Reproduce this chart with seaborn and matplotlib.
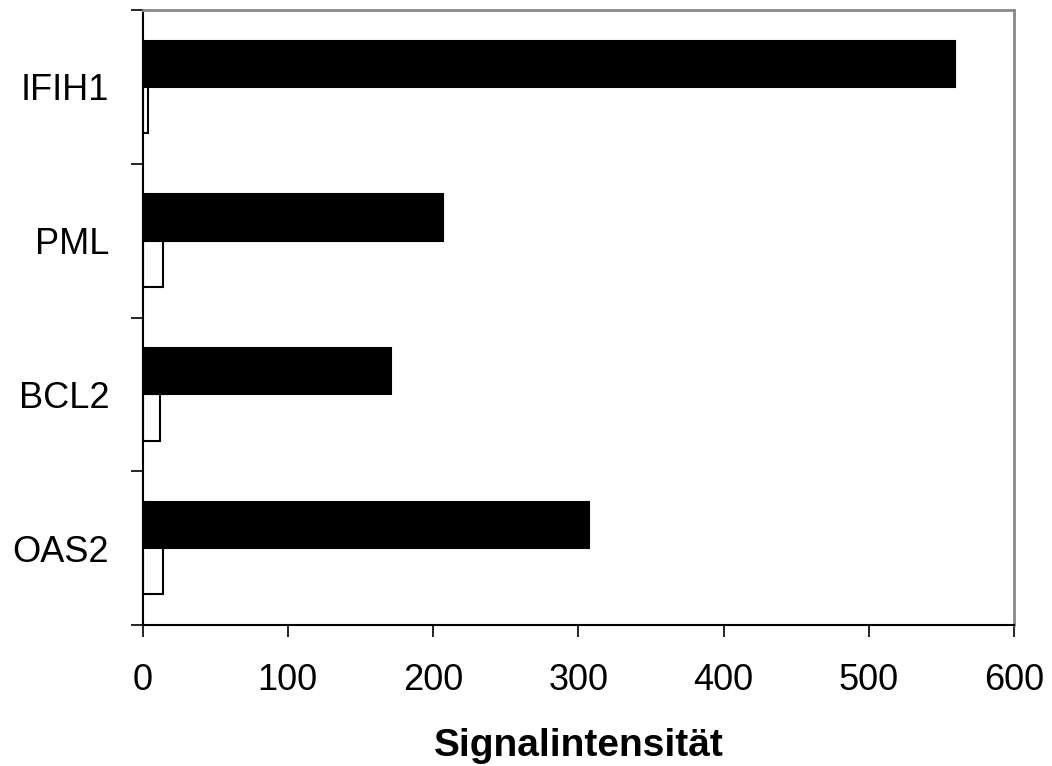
import matplotlib
matplotlib.use("Agg")
import matplotlib.pyplot as plt
import seaborn as sns
import pandas as pd
from matplotlib.ticker import FixedLocator

genes = ["IFIH1", "PML", "BCL2", "OAS2"]
series_a = [559, 207, 171, 307]   # black bars
series_b = [4, 14, 12, 14]        # white bars
series_names = ["A", "B"]
x_ticks = [0, 100, 200, 300, 400, 500, 600]
x_label = "Signalintensität"

df = pd.DataFrame({
    "gene": genes * 2,
    "value": series_a + series_b,
    "series": [series_names[0]] * len(genes) + [series_names[1]] * len(genes),
})

sns.set_theme(style="white")
plt.rcParams["font.family"] = ["Liberation Sans", "DejaVu Sans"]
plt.rcParams["text.color"] = "black"
plt.rcParams["axes.labelcolor"] = "black"
plt.rcParams["xtick.labelcolor"] = "black"
plt.rcParams["ytick.labelcolor"] = "black"

fig = plt.figure(figsize=(10.52, 7.66), dpi=100)
ax = fig.add_axes([0.1355, 0.184, 0.8285, 0.803])

sns.barplot(data=df, y="gene", x="value", hue="series", order=genes,
            hue_order=series_names, palette=["black", "white"],
            orient="h", width=0.6, edgecolor="black", linewidth=1.5,
            legend=False, ax=ax, errorbar=None)

ax.set_xlim(0, 600)
ax.set_ylim(len(genes) - 0.5, -0.5)
ax.set_xticks(x_ticks)
ax.set_xticklabels([str(t) for t in x_ticks])
ax.tick_params(axis="x", direction="out", length=8.6, width=1.2,
               color="black", labelcolor="black", labelsize=26, pad=19, bottom=True)
ax.tick_params(axis="y", which="major", length=0, labelsize=26,
               labelcolor="black", pad=24)
ax.yaxis.set_minor_locator(FixedLocator([i - 0.5 for i in range(len(genes) + 1)]))
ax.tick_params(axis="y", which="minor", direction="out", length=8.6,
               width=1.2, color="black", left=True)

for s in ["left", "bottom"]:
    ax.spines[s].set_color("black")
    ax.spines[s].set_linewidth(1.5)
for s in ["top", "right"]:
    ax.spines[s].set_color("#888888")
    ax.spines[s].set_linewidth(2)

ax.set_ylabel("")
ax.set_xlabel(x_label, fontsize=28, fontweight="bold", color="black", labelpad=21)
ax.grid(False)

fig.savefig("out.png", dpi=100)
